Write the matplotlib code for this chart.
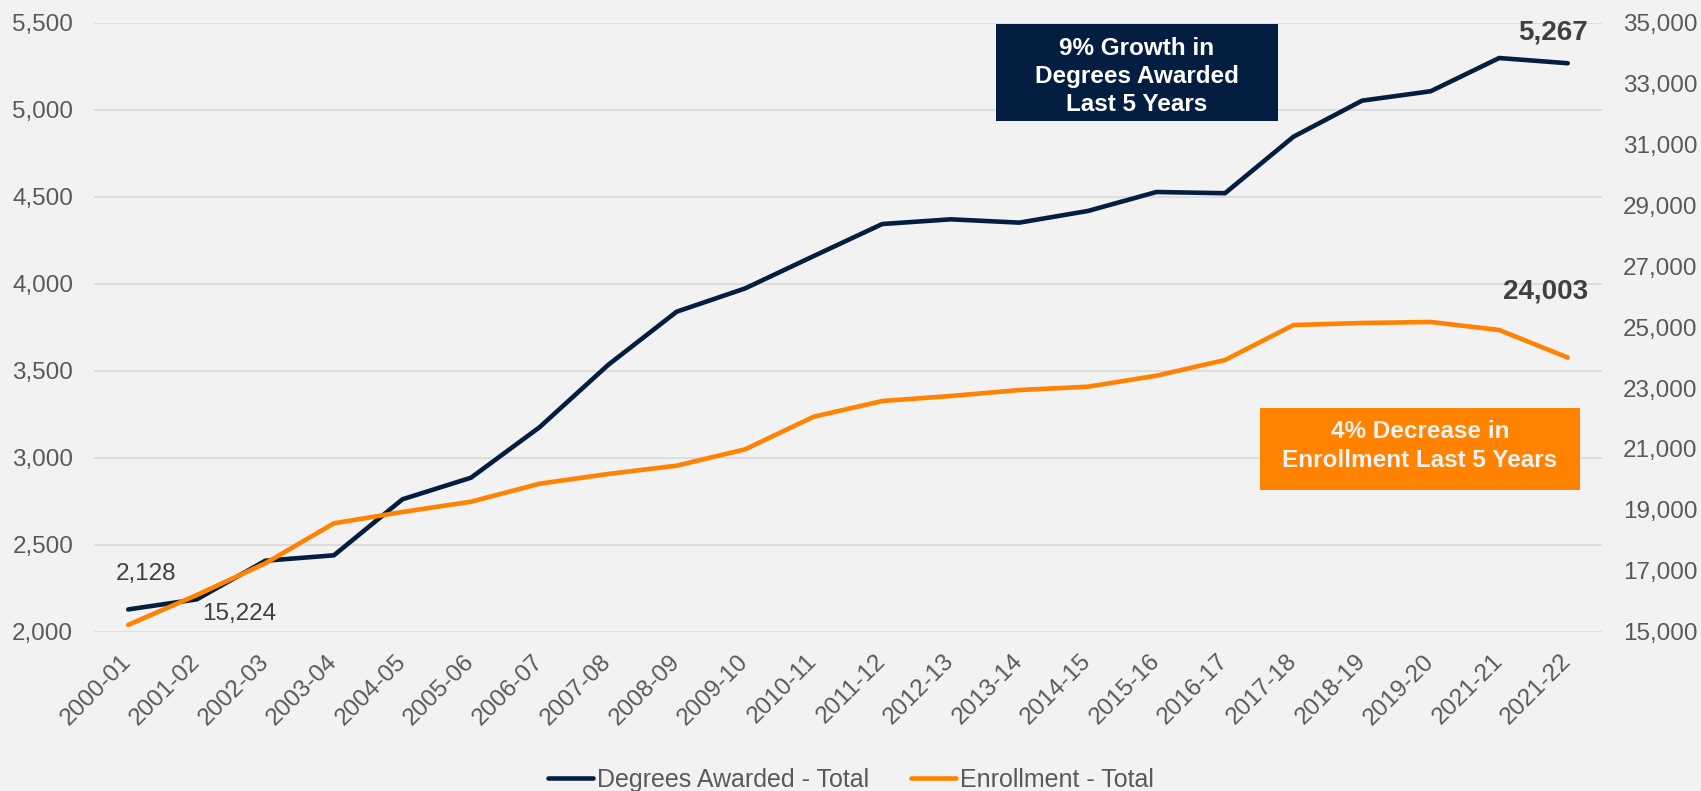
import matplotlib
matplotlib.use("Agg")
import matplotlib.pyplot as plt
from matplotlib.patches import Rectangle
from matplotlib.ticker import FuncFormatter, MultipleLocator

plt.rcParams['font.family'] = ['Liberation Sans', 'DejaVu Sans']

# --- data ---
years = ["2000-01", "2001-02", "2002-03", "2003-04", "2004-05", "2005-06",
         "2006-07", "2007-08", "2008-09", "2009-10", "2010-11", "2011-12",
         "2012-13", "2013-14", "2014-15", "2015-16", "2016-17", "2017-18",
         "2018-19", "2019-20", "2021-21", "2021-22"]
degrees = [2128, 2186, 2408, 2439, 2761, 2885, 3175, 3533, 3839, 3973, 4159,
           4343, 4370, 4351, 4418, 4527, 4520, 4845, 5052, 5106, 5297, 5267]
enrollment = [15224, 16205, 17246, 18560, 18931, 19269, 19860, 20179, 20452,
              20990, 22061, 22576, 22740, 22937, 23046, 23407, 23922, 25072,
              25138, 25171, 24908, 24003]
right_ticks = list(range(15000, 35001, 2000))

NAVY = "#041E42"
ORANGE = "#FF8200"
BG = "#F2F2F2"
GRID = "#D9D9D9"
TICK = "#595959"
LABEL = "#404040"

W, H = 1701, 791
fig = plt.figure(figsize=(W / 100, H / 100), dpi=100, facecolor=BG)
ax = fig.add_axes([94 / W, 1 - 631.7 / H, (1602 - 94) / W, (631.7 - 22.7) / H])
ax.set_facecolor(BG)
ax2 = ax.twinx()

x = range(len(years))
l1, = ax.plot(x, degrees, color=NAVY, lw=3.3, solid_capstyle='round',
              label="Degrees Awarded - Total", zorder=3)
l2, = ax2.plot(x, enrollment, color=ORANGE, lw=3.3, solid_capstyle='round',
               label="Enrollment - Total", zorder=3)

ax.set_xlim(-0.5, len(years) - 0.5)
ax.set_ylim(2000, 5500)
ax2.set_ylim(15000, 35000)
ax.yaxis.set_major_locator(MultipleLocator(500))
ax2.set_yticks(right_ticks)
fmt = FuncFormatter(lambda v, p: f"{int(v):,}")
ax.yaxis.set_major_formatter(fmt)
ax2.yaxis.set_major_formatter(fmt)

ax.grid(axis='y', color=GRID, lw=1.2)
ax.set_axisbelow(True)
for a in (ax, ax2):
    for s in a.spines.values():
        s.set_visible(False)
    a.tick_params(length=0, labelsize=17.5, labelcolor=TICK)
ax.tick_params(axis='y', pad=15)
ax2.tick_params(axis='y', pad=15)

ax.set_xticks(list(x))
ax.set_xticklabels(years, rotation=45, ha='right', va='center',
                   rotation_mode='anchor')
ax.tick_params(axis='x', pad=19)

# data labels
ax.annotate(f"{degrees[0]:,}", (0, degrees[0]), xytext=(18, 35),
            textcoords='offset pixels', ha='center', va='center',
            fontsize=17.5, color=LABEL)
ax2.annotate(f"{enrollment[0]:,}", (0, enrollment[0]), xytext=(111, 11),
             textcoords='offset pixels', ha='center', va='center',
             fontsize=17.5, color=LABEL)
ax.annotate(f"{degrees[-1]:,}", (len(years) - 1, degrees[-1]), xytext=(20, 31),
            textcoords='offset pixels', ha='right', va='center',
            fontsize=20, fontweight='bold', color=LABEL)
ax2.annotate(f"{enrollment[-1]:,}", (len(years) - 1, enrollment[-1]),
             xytext=(20, 66), textcoords='offset pixels', ha='right',
             va='center', fontsize=20, fontweight='bold', color=LABEL)

# callout boxes
fig.patches.append(Rectangle((996 / W, 1 - 121 / H), 282 / W, 97 / H,
                             transform=fig.transFigure, facecolor=NAVY,
                             edgecolor='none', zorder=5))
fig.text(1137 / W, 1 - 76.5 / H, "9% Growth in\nDegrees Awarded\nLast 5 Years",
         ha='center', va='center', fontsize=17.5, fontweight='bold',
         color='white', linespacing=1.3, zorder=6)
fig.patches.append(Rectangle((1260 / W, 1 - 490 / H), 320 / W, 82 / H,
                             transform=fig.transFigure, facecolor=ORANGE,
                             edgecolor='none', zorder=5))
fig.text(1420 / W, 1 - 446 / H, "4% Decrease in\nEnrollment Last 5 Years",
         ha='center', va='center', fontsize=17.5, fontweight='bold',
         color='#F2F2F2', linespacing=1.3, zorder=6)

fig.legend([l1, l2], [l1.get_label(), l2.get_label()], loc='center',
           bbox_to_anchor=(851 / W, 11 / H), ncol=2, frameon=False,
           fontsize=18, labelcolor=TICK, handlelength=1.8,
           handletextpad=0.15, columnspacing=1.7, borderpad=0)

fig.savefig("out.png", dpi=100, facecolor=BG)
